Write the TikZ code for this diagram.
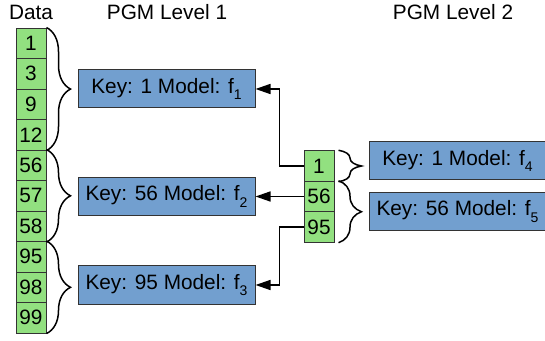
\documentclass[tikz,border=0pt]{standalone}
\usepackage{fontspec}
\setmainfont{Liberation Sans}
\usepackage{tikz}
\usetikzlibrary{arrows.meta,positioning,decorations.pathreplacing}
\definecolor{cellgreen}{RGB}{146,224,128}
\definecolor{keyblue}{RGB}{114,159,207}
\newcommand{\subidx}[1]{\raisebox{-0.6ex}{\scriptsize #1}}

\begin{document}
\begin{tikzpicture}[x=0.5pt,y=-0.5pt,>={Triangle[length=7.5pt,width=5pt]},
                    node distance=15.25pt,font=\fontsize{10.4}{12}\selectfont,
                    semithick]
  \tikzstyle{cell}=[draw=black!80,fill=cellgreen,minimum width=15pt,minimum height=15.25pt,inner sep=0pt,line width=0.5pt]
  \tikzstyle{model}=[draw=black!80,fill=keyblue,minimum width=88.5pt,minimum height=19pt,inner sep=0pt,line width=0.5pt]
  \tikzstyle{curly}=[decorate,decoration={brace,amplitude=12pt},line width=0.75pt]
  \tikzstyle{curlyraised}=[decorate,decoration={brace,amplitude=11.5pt,raise=2pt},line width=0.75pt]

  \useasboundingbox (0,0) rectangle (545,341);

  \node (data) at (31,12)  {Data};
  \node (lvl1) at (167,12) {PGM Level 1};
  \node (lvl2) at (453,12) {PGM Level 2};

  \node[cell] (d1)  at (31,43.3)     {1};
  \node[cell] (d3)  [below of=d1]  {3};
  \node[cell] (d9)  [below of=d3]  {9};
  \node[cell] (d12) [below of=d9]  {12};
  \node[cell] (d56) [below of=d12] {56};
  \node[cell] (d57) [below of=d56] {57};
  \node[cell] (d58) [below of=d57] {58};
  \node[cell] (d95) [below of=d58] {95};
  \node[cell] (d98) [below of=d95] {98};
  \node[cell] (d99) [below of=d98] {99};

  \node[model] (m1) at (166.5,89)  {Key: 1 Model: f\subidx{1}};
  \node[model] (m2) at (166.5,196.5) {Key: 56 Model: f\subidx{2}};
  \node[model] (m3) at (166.5,285) {Key: 95 Model: f\subidx{3}};

  \node[cell] (e1)  at (319,166)    {1};
  \node[cell] (e56) [below of=e1]  {56};
  \node[cell] (e95) [below of=e56] {95};

  \node[model] (m4) at (457.5,161)   {Key: 1 Model: f\subidx{4}};
  \node[model] (m5) at (457.5,211.5) {Key: 56 Model: f\subidx{5}};

  % braces from the data to the models
  \draw[curly] (d1.north east)  -- (d12.south east);
  \draw[curly] (d56.north east) -- (d58.south east);
  \draw[curly] (d95.north east) -- (d99.south east);
  \draw[curlyraised] (e1.north east)  -- (e1.south east);
  \draw[curlyraised] (e56.north east) -- (e95.south east);

  \path[->,line width=0.75pt]
        (e1.west)  edge [to path={-- ++(-24,0) |- (\tikztotarget)}] (m1.east)
        (e56.west) edge (m2.east)
        (e95.west) edge [to path={-- ++(-24,0) |- (\tikztotarget)}] (m3.east);
\end{tikzpicture}
\end{document}
